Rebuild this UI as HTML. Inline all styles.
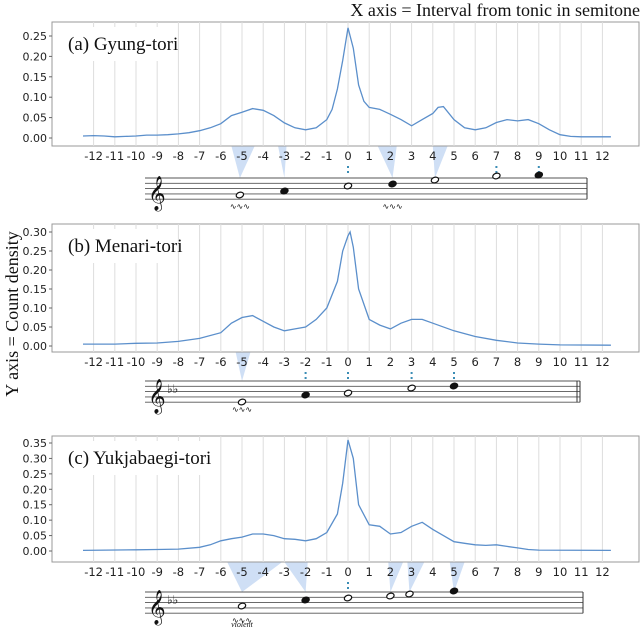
<!DOCTYPE html>
<html><head><meta charset="utf-8">
<style>
html,body{margin:0;padding:0;background:#fff;}
svg{display:block;}
</style></head>
<body>
<svg id="fig" width="640" height="628" viewBox="0 0 640 628" xmlns="http://www.w3.org/2000/svg">
<text x="640" y="16" text-anchor="end" font-family="Liberation Serif, serif" font-size="18" fill="#111">X axis = Interval from tonic in semitone</text>
<text transform="translate(18,314) rotate(-90)" text-anchor="middle" font-family="Liberation Serif, serif" font-size="18" fill="#111">Y axis = Count density</text>
</svg>
<script>
// Panel (a) Gyung-tori
const xA=[-12.5,-12,-11.5,-11,-10.5,-10,-9.5,-9,-8.5,-8,-7.5,-7,-6.5,-6,-5.5,-5,-4.5,-4,-3.5,-3,-2.5,-2,-1.5,-1,-0.75,-0.5,-0.25,0,0.25,0.5,0.75,1,1.5,2,2.5,3,3.5,4,4.25,4.5,5,5.5,6,6.5,7,7.5,8,8.5,9,9.5,10,10.5,11,11.5,12,12.4];
const yA=[.005,.006,.005,.003,.004,.005,.007,.007,.008,.010,.013,.018,.025,.035,.055,.063,.072,.068,.055,.037,.025,.020,.025,.045,.070,.120,.190,.270,.220,.130,.090,.075,.070,.058,.045,.030,.045,.060,.075,.077,.045,.025,.020,.025,.038,.045,.042,.045,.035,.020,.008,.004,.003,.003,.003,.003];
const ticksA=[0,0.05,0.10,0.15,0.20,0.25];
// Panel (b) Menari-tori
const xB=[-12.5,-11,-10,-9,-8,-7,-6,-5.5,-5,-4.5,-4,-3.5,-3,-2.5,-2,-1.5,-1,-0.5,-0.25,0,0.1,0.25,0.5,1,1.5,2,2.5,3,3.5,4,5,6,7,8,9,10,12.4];
const yB=[.005,.005,.007,.008,.012,.020,.035,.060,.075,.080,.065,.050,.040,.045,.050,.070,.100,.170,.250,.290,.300,.260,.150,.070,.055,.045,.060,.070,.070,.060,.040,.025,.015,.008,.005,.003,.002];
const ticksB=[0,0.05,0.10,0.15,0.20,0.25,0.30];
// Panel (c) Yukjabaegi-tori
const xC=[-12.5,-10,-9,-8,-7,-6.5,-6,-5.5,-5,-4.5,-4,-3.5,-3,-2.5,-2,-1.5,-1,-0.5,-0.25,0,0.25,0.5,1,1.5,2,2.5,3,3.5,4,4.5,5,5.5,6,6.5,7,7.5,8,8.5,9,12.4];
const yC=[.002,.004,.005,.006,.012,.020,.033,.040,.045,.055,.055,.050,.040,.038,.033,.040,.060,.120,.220,.360,.300,.150,.085,.080,.055,.060,.080,.093,.070,.050,.030,.025,.020,.018,.020,.015,.010,.005,.003,.002];
const ticksC=[0,0.05,0.10,0.15,0.20,0.25,0.30,0.35];
const xTicks=[-12,-11,-10,-9,-8,-7,-6,-5,-4,-3,-2,-1,0,1,2,3,4,5,6,7,8,9,10,11,12];

const NS="http://www.w3.org/2000/svg";
const svg=document.getElementById('fig');
function mk(tag,attrs,parent){const e=document.createElementNS(NS,tag);for(const k in attrs)e.setAttribute(k,attrs[k]);(parent||svg).appendChild(e);return e;}
const X=v=>348+v*21.2;

const panels=[
 {key:'a',title:'(a) Gyung-tori',xs:xA,ys:yA,ticks:ticksA,top:22,bot:146,y0:138,ymax:0.25,ytop:36,
  staff:{top:178,x1:145,x2:587,flats:false,dbl:false},
  tris:[[-5.5,-4.4,-5.1],[-3.3,-2.9,-3],[1.4,2.3,2.1],[4.0,4.7,4.1]],dots:[0,7,9],
  notes:[[-5.1,195,0],[-3,191,1],[0,186,0],[2.1,184,1],[4.1,180,0],[7,176,0],[9,175,1]],trills:[-5.1,2.1]},
 {key:'b',title:'(b) Menari-tori',xs:xB,ys:yB,ticks:ticksB,top:224,bot:352,y0:346,ymax:0.30,ytop:232,
  staff:{top:381,x1:145,x2:580,flats:true,dbl:true},
  tris:[[-5.3,-4.6,-5]],dots:[-2,0,3,5],
  notes:[[-5,402,0],[-2,395,1],[0,393,0],[3,388,0],[5,386,1]],trills:[-5]},
 {key:'c',title:'(c) Yukjabaegi-tori',xs:xC,ys:yC,ticks:ticksC,top:436,bot:562,y0:551,ymax:0.35,ytop:443,
  staff:{top:592,x1:145,x2:583,flats:true,dbl:false},
  tris:[[-5.7,-3.1,-5],[-3.0,-1.9,-2],[1.9,2.6,2],[2.8,3.6,2.9],[4.8,5.5,5]],dots:[0],
  notes:[[-5,606,0],[-2,600,1],[0,598,0],[2,596,0],[2.9,594,0],[5,591,1]],trills:[-5]}
];

panels.forEach(p=>{
 const g=mk('g',{});
 
 
 const Y=v=>p.y0-(v/p.ymax)*(p.y0-p.ytop);
 const s=p.staff, sp=5.3;
 p.tris.forEach(tr=>{
  const pg=mk('polygon',{points:`${X(tr[0])},${p.bot} ${X(tr[1])},${p.bot} ${X(tr[2])},${s.top}`,fill:'#cfdff5'},g);
  
  
 });
 const box=mk('rect',{x:52,y:p.top,width:587,height:p.bot-p.top,fill:'#fff',stroke:'#999','stroke-width':1},g);
 
 
 xTicks.forEach(t=>{
  const l=mk('line',{x1:X(t),x2:X(t),y1:p.top,y2:p.bot,stroke:'#ddd','stroke-width':1},g);
  
  
  const tx=mk('text',{x:X(t),y:p.bot+14,'text-anchor':'middle','font-family':'DejaVu Sans, sans-serif','font-size':11.5,fill:'#222'},g);
  tx.textContent=t;
  
  
 });
 p.ticks.forEach(t=>{
  const tx=mk('text',{x:47,y:Y(t)+4,'text-anchor':'end','font-family':'DejaVu Sans, sans-serif','font-size':11,fill:'#222'},g);
  tx.textContent=t.toFixed(2);
  
  
  mk('line',{x1:49,x2:52,y1:Y(t),y2:Y(t),stroke:'#666'},g);
 });
 mk('rect',{x:62,y:p.top+5,width:p.key==='c'?150:112,height:34,fill:'#fff'},g);
 const tt=mk('text',{x:68,y:p.top+28,'font-family':'Liberation Serif, serif','font-size':19,fill:'#111'},g);
 tt.textContent=p.title;
 
 
 let d='';
 p.xs.forEach((v,i)=>{d+=(i?'L':'M')+X(v).toFixed(1)+','+Y(p.ys[i]).toFixed(1);});
 const line=mk('path',{d:d,fill:'none',stroke:'#5b8fcb','stroke-width':1.3},g);
 
 
 for(let i=0;i<5;i++){mk('line',{x1:s.x1,x2:s.x2,y1:s.top+i*sp,y2:s.top+i*sp,stroke:'#555','stroke-width':0.9},g);}
 mk('line',{x1:s.x2,x2:s.x2,y1:s.top,y2:s.top+4*sp,stroke:'#333','stroke-width':1},g);
 if(s.dbl)mk('line',{x1:s.x2-3,x2:s.x2-3,y1:s.top,y2:s.top+4*sp,stroke:'#333','stroke-width':1},g);
 const cl=mk('text',{x:s.x1+3,y:s.top+4*sp+4,'font-family':'DejaVu Sans, sans-serif','font-size':30,fill:'#111'},g);
 cl.textContent='\u{1D11E}';
 
 
 if(s.flats){
  const f=mk('text',{x:s.x1+22,y:s.top+12,'font-family':'DejaVu Sans, sans-serif','font-size':12,fill:'#111'},g);
  f.textContent='\u266D\u266D';
  
  
 }
 p.dots.forEach(v=>{
  const dl=mk('line',{x1:X(v),x2:X(v),y1:p.bot+20,y2:s.top-2,stroke:'#3b8db5','stroke-width':2,'stroke-dasharray':'2,3'},g);
  
  
 });
 p.notes.forEach(n=>{
  const e=mk('ellipse',{cx:X(n[0]),cy:n[1],rx:3.8,ry:2.7,fill:n[2]?'#111':'#fff',stroke:'#111','stroke-width':1.2,transform:`rotate(-20 ${X(n[0])} ${n[1]})`},g);
  
  
 });
 p.trills.forEach(v=>{
  const tr=mk('text',{x:X(v),y:s.top+4*sp+10,'text-anchor':'middle','font-family':'DejaVu Sans, sans-serif','font-size':8,fill:'#111'},g);
  tr.textContent='\u223F\u223F\u223F';
  
  
 });
 if(p.key==='c'){
  const v=mk('text',{x:X(-5),y:627,'text-anchor':'middle','font-family':'Liberation Serif, serif','font-style':'italic','font-size':8,fill:'#111'},g);
  v.textContent='violent';
  
  
 }
});
</script>
</body></html>
